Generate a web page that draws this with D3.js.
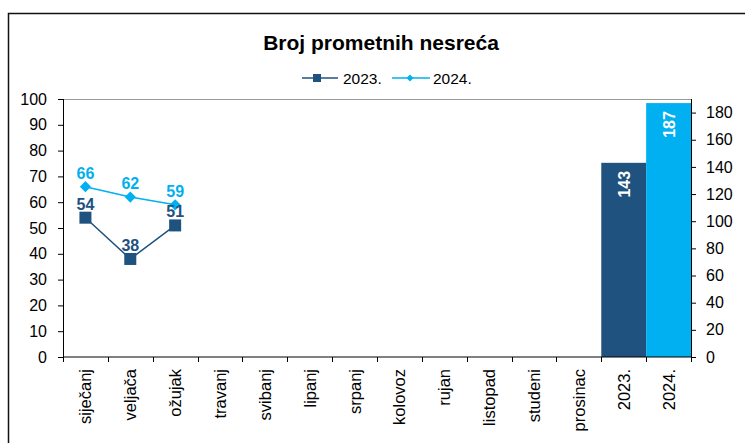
<!DOCTYPE html>
<html>
<head>
<meta charset="utf-8">
<script src="https://cdnjs.cloudflare.com/ajax/libs/d3/7.8.5/d3.min.js"></script>
<style>
body { margin: 0; background: #fff; }
svg { display: block; font-family: "Liberation Sans", Arial, sans-serif; }
.axis path, .axis line { stroke: #000; }
.axis text { font-size: 16px; fill: #000; font-family: "Liberation Sans", Arial, sans-serif; }
</style>
</head>
<body>
<div id="chart"></div>
<script>
var months = ["siječanj", "veljača", "ožujak", "travanj", "svibanj", "lipanj",
    "srpanj", "kolovoz", "rujan", "listopad", "studeni", "prosinac"];
var years = ["2023.", "2024."];
var categories = months.concat(years);

// monthly counts (only first three months reported)
var values2023 = [54, 38, 51];
var values2024 = [66, 62, 59];
// yearly totals, right axis
var totals = [143, 187];

var leftTicks = [0, 10, 20, 30, 40, 50, 60, 70, 80, 90, 100];
var rightTicks = [0, 20, 40, 60, 80, 100, 120, 140, 160, 180];

var dark = "#1f527f", light = "#00b0f0";

var W = 745, H = 443;
var margin = {top: 99, left: 63, bottom: 86, right: 54},
    width = W - margin.left - margin.right,
    height = H - margin.top - margin.bottom;

var root = d3.select("#chart").append("svg")
    .attr("width", W)
    .attr("height", H);

// outer frame of the chart
root.append("rect")
    .attr("x", 8.5).attr("y", 13.5)
    .attr("width", W + 10).attr("height", H + 10)
    .attr("fill", "none")
    .attr("stroke", "#111")
    .attr("stroke-width", 1.5);

root.append("text")
    .attr("x", 381).attr("y", 50)
    .attr("text-anchor", "middle")
    .style("font-size", "21px")
    .style("font-weight", "bold")
    .text("Broj prometnih nesreća");

// legend
var legend = root.append("g").attr("transform", "translate(0, 78)");
legend.append("line").attr("x1", 302).attr("x2", 338).attr("stroke", dark).attr("stroke-width", 1.5);
legend.append("rect").attr("x", 313).attr("y", -4).attr("width", 8).attr("height", 8).attr("fill", dark);
legend.append("text").attr("x", 343).attr("y", 5.5).style("font-size", "15.5px").text(years[0]);
legend.append("line").attr("x1", 392).attr("x2", 430).attr("stroke", light).attr("stroke-width", 1.5);
legend.append("path").attr("d", d3.symbol(d3.symbolDiamond2, 30)()).attr("transform", "translate(410,0)").attr("fill", light);
legend.append("text").attr("x", 433).attr("y", 5.5).style("font-size", "15.5px").text(years[1]);

var svg = root.append("g")
    .attr("transform", "translate(" + margin.left + ", " + margin.top + ")");

var x = d3.scaleBand().domain(categories).range([0, width]).padding(0);
var yL = d3.scaleLinear().domain([0, 100]).range([height, 0]);
var yR = d3.scaleLinear().domain([0, 190]).range([height, 0]);

// plot area top border
svg.append("line")
    .attr("x1", 0).attr("x2", width)
    .attr("y1", 0.5).attr("y2", 0.5)
    .attr("stroke", "#999");

// bars for the yearly totals
svg.selectAll(".bar")
    .data(totals)
    .enter().append("rect")
    .attr("class", "bar")
    .attr("x", function(d, i){ return x(years[i]); })
    .attr("width", x.bandwidth())
    .attr("y", function(d){ return yR(d); })
    .attr("height", function(d){ return height - yR(d); })
    .attr("fill", function(d, i){ return i === 0 ? dark : light; });

svg.selectAll(".bar-label")
    .data(totals)
    .enter().append("text")
    .attr("class", "bar-label")
    .attr("transform", function(d, i){
        return "translate(" + (x(years[i]) + x.bandwidth() / 2 + 6) + "," + (yR(d) + 8) + ") rotate(-90)";
    })
    .attr("text-anchor", "end")
    .attr("fill", "#fff")
    .style("font-size", "16px")
    .style("font-weight", "bold")
    .text(function(d){ return d; });

// axes
svg.append("g")
    .attr("class", "axis")
    .call(d3.axisLeft(yL).tickValues(leftTicks).tickSize(5).tickSizeOuter(0).tickPadding(11))
    .select(".domain").attr("d", "M0.5," + height + "V0");

svg.append("g")
    .attr("class", "axis")
    .attr("transform", "translate(" + width + ",0)")
    .call(d3.axisRight(yR).tickValues(rightTicks).tickSize(5).tickSizeOuter(0).tickPadding(10))
    .select(".domain").attr("d", "M0.5," + height + "V0");

var xAxis = svg.append("g")
    .attr("class", "axis")
    .attr("transform", "translate(0," + height + ")");
xAxis.append("line").attr("x1", 0).attr("x2", width).attr("stroke", "#000");
xAxis.selectAll(".tk")
    .data(d3.range(categories.length + 1))
    .enter().append("line")
    .attr("class", "tk")
    .attr("x1", function(i){ return Math.round(i * x.step()) + 0.5; })
    .attr("x2", function(i){ return Math.round(i * x.step()) + 0.5; })
    .attr("y1", 0).attr("y2", 5)
    .attr("stroke", "#000");
xAxis.selectAll("text")
    .data(categories)
    .enter().append("text")
    .attr("transform", function(d){
        return "translate(" + (x(d) + x.bandwidth() / 2 + 6) + ",12) rotate(-90)";
    })
    .attr("text-anchor", "end")
    .style("font-size", "16.5px")
    .text(function(d){ return d; });

// lines for monthly counts
var line = d3.line()
    .x(function(d, i){ return x(months[i]) + x.bandwidth() / 2; })
    .y(function(d){ return yL(d); });

svg.append("path").datum(values2023)
    .attr("d", line).attr("fill", "none").attr("stroke", dark).attr("stroke-width", 1.5);
svg.append("path").datum(values2024)
    .attr("d", line).attr("fill", "none").attr("stroke", light).attr("stroke-width", 1.5);

svg.selectAll(".m2023")
    .data(values2023)
    .enter().append("rect")
    .attr("class", "m2023")
    .attr("x", function(d, i){ return x(months[i]) + x.bandwidth() / 2 - 6; })
    .attr("y", function(d){ return yL(d) - 6; })
    .attr("width", 12).attr("height", 12)
    .attr("fill", dark);

svg.selectAll(".m2024")
    .data(values2024)
    .enter().append("path")
    .attr("class", "m2024")
    .attr("d", d3.symbol(d3.symbolDiamond2, 80)())
    .attr("transform", function(d, i){
        return "translate(" + (x(months[i]) + x.bandwidth() / 2) + "," + yL(d) + ")";
    })
    .attr("fill", light);

function labels(vals, color, cls){
    svg.selectAll("." + cls)
        .data(vals)
        .enter().append("text")
        .attr("class", cls)
        .attr("x", function(d, i){ return x(months[i]) + x.bandwidth() / 2; })
        .attr("y", function(d){ return yL(d) - 8; })
        .attr("text-anchor", "middle")
        .attr("fill", color)
        .style("font-size", "16px")
        .style("font-weight", "bold")
        .text(function(d){ return d; });
}
labels(values2023, dark, "l2023");
labels(values2024, light, "l2024");
</script>
</body>
</html>
